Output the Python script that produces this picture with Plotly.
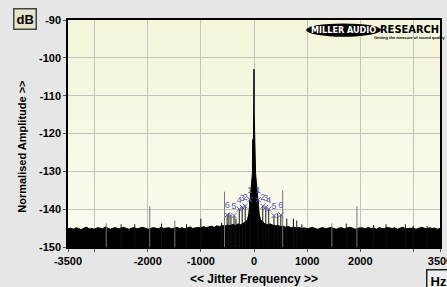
import plotly.graph_objects as go

# ---------------- data ----------------
left_noise_start = -3500
noise_step = 50
left_noise = [
    -145.2, -145.0, -145.3, -144.9, -145.1, -145.4, -145.0, -144.8, -145.2, -145.1,
    -145.3, -144.9, -145.0, -145.2, -144.7, -145.1, -145.3, -145.0, -144.9, -145.2,
    -145.0, -144.8, -145.1, -145.3, -145.0, -144.9, -145.2, -145.1, -144.8, -145.0,
    -145.3, -145.1, -144.9, -145.0, -145.2, -144.8, -145.1, -145.0, -144.9, -145.2,
    -145.0, -144.8, -145.1, -144.9, -145.2, -145.0, -144.7, -145.1, -144.9, -144.8,
    -145.0, -144.6, -144.9, -144.7, -144.5, -144.8, -144.4, -144.6, -144.3, -144.5,
    -144.2, -144.4, -144.0, -144.3, -143.9, -144.1,
]
center_freq = [-200, -175, -150, -125, -100, -80, -60, -45, -30, -25, -10, -4, 0,
               4, 10, 25, 30, 45, 60, 80, 100, 125, 150, 175, 200]
center_db = [-143.8, -143.5, -143.2, -142.8, -141.5, -139.0, -135.5, -133.0, -130.5,
             -122.0, -121.0, -115.0, -103.0, -115.0, -121.0, -122.0, -130.5, -133.0,
             -135.5, -139.0, -141.5, -142.8, -143.2, -143.5, -143.8]
right_noise_start = 250
right_noise = [
    -144.1, -143.9, -144.2, -144.4, -144.3, -144.6, -144.5, -144.8, -144.6, -144.9,
    -144.7, -145.0, -144.8, -145.1, -144.9, -145.2, -145.0, -144.8, -145.1, -145.3,
    -145.0, -144.9, -145.2, -145.0, -144.8, -145.1, -145.3, -145.0, -144.9, -145.2,
    -145.1, -144.8, -145.0, -145.3, -145.1, -144.9, -145.0, -145.2, -144.8, -145.1,
    -145.0, -145.3, -144.9, -145.1, -145.2, -144.8, -145.0, -145.1, -144.9, -145.3,
    -145.0, -144.8, -145.2, -145.1, -144.9, -145.0, -145.3, -145.1, -144.8, -145.0,
    -145.2, -144.9, -145.1, -145.0, -145.3, -145.1,
]

# isolated spurious lines
grey_spike_freq = [-2780, -1962, -1490, -555, 540, 1466, 1937]
grey_spike_db = [-143.8, -139.2, -143.0, -135.4, -135.0, -143.8, -139.2]
black_spike_freq = [-2500, -2245, -1740, -1270, -1000, -610, -505, -472, -434, -376,
                    -340, -277, -222, -165, -80, 80, 165, 222, 277, 376, 447, 505,
                    617, 742, 805, 900, 1736, 2251, 2485, 2849, 2994, 3258]
black_spike_db = [-144.0, -144.0, -143.8, -144.0, -142.5, -143.6, -141.5, -141.0,
                  -141.4, -141.7, -142.5, -140.0, -139.5, -139.2, -137.5, -137.5,
                  -139.2, -139.5, -140.0, -141.7, -141.1, -141.5, -142.5, -142.5,
                  -143.0, -144.0, -143.8, -144.2, -144.0, -144.0, -144.4, -144.5]

# jitter sideband markers
marker_freq = [-505, -376, -277, -222, -165, -80, 80, 165, 222, 277, 376, 505]
marker_db = [-141.5, -141.7, -140.0, -139.5, -139.2, -137.5,
             -137.5, -139.2, -139.5, -140.0, -141.7, -141.5]
marker_labels = ["6", "5", "4", "3", "2", "1", "1", "2", "3", "4", "5", "6"]

x_tickvals = [-3500, -3000, -2000, -1000, 0, 1000, 2000, 3000, 3500]
x_ticktext = ["-3500", "", "-2000", "-1000", "0", "1000", "2000", "", "3500"]
y_tickvals = [-150, -140, -130, -120, -110, -100, -90]
y_ticktext = ["-150", "-140", "-130", "-120", "-110", "-100", "-90"]
x_range = [-3500, 3500]
y_range = [-150, -90]

# ---------------- build spectrum ----------------
spec_x = [left_noise_start + noise_step * i for i in range(len(left_noise))]
spec_y = list(left_noise)
spec_x += center_freq
spec_y += center_db
spec_x += [right_noise_start + noise_step * i for i in range(len(right_noise))]
spec_y += right_noise


def segments(freqs, levels, base):
    xs, ys = [], []
    for f, v in zip(freqs, levels):
        xs += [f, f, None]
        ys += [base, v, None]
    return xs, ys


FONT = "Liberation Sans, Arial, sans-serif"
LOGO_FONT = "DejaVu Sans Condensed, Liberation Sans Narrow, Arial"
fig = go.Figure()

fig.add_trace(go.Scatter(x=[x_range[0], x_range[1]], y=[y_range[0], y_range[0]],
                         mode="lines", line=dict(width=0, color="black"),
                         hoverinfo="skip", showlegend=False))
fig.add_trace(go.Scatter(x=spec_x, y=spec_y, mode="lines", fill="tonexty",
                         fillcolor="black", line=dict(color="black", width=1),
                         showlegend=False))
gx, gy = segments(grey_spike_freq, grey_spike_db, y_range[0])
fig.add_trace(go.Scatter(x=gx, y=gy, mode="lines", line=dict(color="#777777", width=1),
                         showlegend=False))
bx, by = segments(black_spike_freq, black_spike_db, y_range[0])
fig.add_trace(go.Scatter(x=bx, y=by, mode="lines", line=dict(color="#111111", width=1),
                         showlegend=False))
fig.add_trace(go.Scatter(x=marker_freq, y=marker_db, mode="markers+text",
                         text=marker_labels, textposition="top center",
                         textfont=dict(family=FONT, size=9, color="#5a5ab8"),
                         marker=dict(symbol="x-thin", size=5,
                                     line=dict(width=1, color="#5a5ab8")),
                         showlegend=False))

# plot background gradient
shapes = []
n = 14
for i in range(n):
    t = i / (n - 1)
    r = int(251 + (244 - 251) * t)
    g = int(252 + (245 - 252) * t)
    b = int(240 + (218 - 240) * t)
    shapes.append(dict(type="rect", xref="paper", yref="paper",
                       x0=0, x1=1, y0=i / n, y1=(i + 1) / n,
                       fillcolor=f"rgb({r},{g},{b})", line=dict(width=0),
                       layer="below"))
# logo ellipse
shapes.append(dict(type="circle", xref="x", yref="y", x0=980, x1=2390,
                   y0=-94.4, y1=-90.9, fillcolor="black", line=dict(width=0)))

annotations = [
    dict(text="MILLER AUDIO", x=1685, y=-92.7, xref="x", yref="y", showarrow=False,
         font=dict(family=LOGO_FONT, size=9, color="white", weight="bold")),
    dict(text="RESEARCH", x=2935, y=-92.5, xref="x", yref="y", showarrow=False,
         font=dict(family=LOGO_FONT, size=11, color="black", weight="bold")),
    dict(text="Getting the measure of sound quality", x=2935, y=-94.5, xref="x",
         yref="y", showarrow=False,
         font=dict(family=FONT, size=4, color="black", weight="bold")),
    dict(text="dB", x=-0.116, y=1.003, xref="paper", yref="paper", showarrow=False,
         xanchor="center", yanchor="middle",
         font=dict(family=FONT, size=13, color="black", weight="bold"),
         bgcolor="#e6e6c8", bordercolor="#444444", borderwidth=1.5, borderpad=2),
    dict(text="Hz", x=0.995, y=-0.148, xref="paper", yref="paper", showarrow=False,
         xanchor="center", yanchor="middle",
         font=dict(family=FONT, size=13, color="black", weight="bold"),
         bgcolor="#f0f0f0", bordercolor="#222222", borderwidth=1.5, borderpad=3),
    dict(text="<< Jitter Frequency >>", x=0.5, y=-0.139, xref="paper", yref="paper",
         showarrow=False, xanchor="center", yanchor="middle",
         font=dict(family=FONT, size=12, color="black", weight="bold")),
    dict(text="Normalised Amplitude >>", x=-0.122, y=0.44, xref="paper", yref="paper",
         showarrow=False, xanchor="center", yanchor="middle", textangle=-90,
         font=dict(family=FONT, size=11, color="black", weight="bold")),
]

fig.update_layout(
    width=447, height=287,
    margin=dict(l=68, r=7, t=20, b=40, pad=0),
    paper_bgcolor="#e6e6e6",
    plot_bgcolor="#f8f8e8",
    shapes=shapes,
    annotations=annotations,
    showlegend=False,
)
fig.update_xaxes(range=x_range, tickvals=x_tickvals, ticktext=x_ticktext,
                 showgrid=True, gridcolor="#c4c4bc", gridwidth=1, zeroline=False,
                 showline=True, mirror=True, linecolor="black", linewidth=1.5,
                 ticks="outside", ticklen=3, tickcolor="#555555", automargin=False,
                 ticklabeloverflow="allow",
                 tickfont=dict(family=FONT, size=11, color="black", weight="bold"))
fig.update_yaxes(range=y_range, tickvals=y_tickvals, ticktext=y_ticktext,
                 showgrid=True, gridcolor="#c4c4bc", gridwidth=1, zeroline=False,
                 showline=True, mirror=True, linecolor="black", linewidth=1.5,
                 ticks="outside", ticklen=3, tickcolor="#555555", automargin=False,
                 ticklabeloverflow="allow",
                 tickfont=dict(family=FONT, size=11, color="black", weight="bold"))

fig.write_html("out.html",
               config={"displayModeBar": False},
               post_script="document.body.style.margin='0px';"
                           "document.body.style.padding='0px';"
                           "document.body.style.overflow='hidden';")
